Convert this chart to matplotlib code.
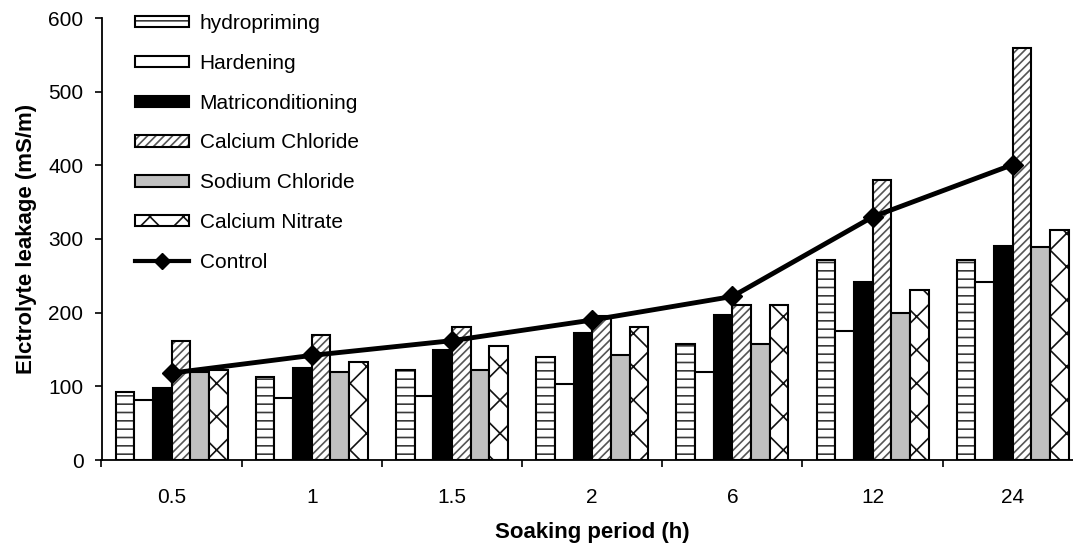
import matplotlib
matplotlib.use("Agg")
import matplotlib.pyplot as plt
from matplotlib.patches import Patch
from matplotlib.lines import Line2D
import numpy as np

plt.rcParams['font.family'] = ['Liberation Sans', 'DejaVu Sans']
plt.rcParams['hatch.linewidth'] = 1.2

periods = ["0.5", "1", "1.5", "2", "6", "12", "24"]
hydropriming = [92, 112, 122, 140, 158, 271, 271]
hardening = [82, 84, 87, 103, 120, 175, 241]
matriconditioning = [98, 125, 150, 172, 197, 242, 290]
calcium_chloride = [162, 170, 180, 195, 210, 380, 559]
sodium_chloride = [120, 120, 122, 142, 158, 200, 289]
calcium_nitrate = [122, 133, 155, 180, 210, 231, 312]
control = [118, 142, 162, 190, 222, 330, 401]

series = [
    ("hydropriming", hydropriming, "white", "--", "#3a3a3a"),
    ("Hardening", hardening, "white", None, None),
    ("Matriconditioning", matriconditioning, "black", None, None),
    ("Calcium Chloride", calcium_chloride, "white", "////", "#555555"),
    ("Sodium Chloride", sodium_chloride, "#c0c0c0", None, None),
    ("Calcium Nitrate", calcium_nitrate, "white", "x", "#111111"),
]

fig = plt.figure(figsize=(10.73, 5.46), dpi=100)
ax = fig.add_axes([101.5 / 1073, 86 / 546, 981.4 / 1073, 442 / 546])

x = np.arange(len(periods))
w = 1 / 7.5
handles, labels = [], []
for i, (name, vals, fc, hatch, hc) in enumerate(series):
    pos = x + (i - 2.5) * w
    if hatch:
        ax.bar(pos, vals, width=w, facecolor=fc, edgecolor=hc, linewidth=0,
               hatch=hatch, zorder=2)
        ax.bar(pos, vals, width=w, fill=False, edgecolor="black", linewidth=1.5, zorder=2)
        h = (Patch(facecolor=fc, edgecolor=hc, hatch=hatch, linewidth=0),
             Patch(fill=False, edgecolor="black", linewidth=1.5))
    else:
        ax.bar(pos, vals, width=w, facecolor=fc, edgecolor="black", linewidth=1.5, zorder=2)
        h = Patch(facecolor=fc, edgecolor="black", linewidth=1.5)
    handles.append(h)
    labels.append(name)

ax.plot(x, control, color="black", linewidth=3.5, marker="D", markersize=10, zorder=3)
handles.append(Line2D([], [], color="black", linewidth=3, marker="D", markersize=8))
labels.append("Control")

ax.set_xlim(-0.5, len(periods) - 0.5)
ax.set_ylim(0, 600)
ax.set_yticks(np.arange(0, 601, 100))
ax.set_xticks(x)
ax.set_xticklabels(periods)
ax.set_xticks(np.arange(-0.5, len(periods), 1.0), minor=True)
ax.tick_params(axis="x", which="major", length=0, pad=20, labelsize=15)
ax.tick_params(axis="x", which="minor", length=5, width=1.2, direction="out")
ax.tick_params(axis="y", length=5, width=1.2, direction="out", labelsize=15, pad=8)
for s in ["top", "right"]:
    ax.spines[s].set_visible(False)
for s in ["left", "bottom"]:
    ax.spines[s].set_linewidth(1.3)

ax.set_ylabel("Elctrolyte leakage (mS/m)", fontsize=16, fontweight="bold", labelpad=8)
ax.set_xlabel("Soaking period (h)", fontsize=16, fontweight="bold", labelpad=11)

leg = ax.legend(handles, labels, loc="upper left", bbox_to_anchor=(135 / 1073, 1 - 14 / 546),
                bbox_transform=fig.transFigure, frameon=False, fontsize=15,
                handlelength=2.6, handleheight=0.45, labelspacing=1.0,
                handletextpad=0.5, borderpad=0, borderaxespad=0)

fig.savefig("out.png", dpi=100)
